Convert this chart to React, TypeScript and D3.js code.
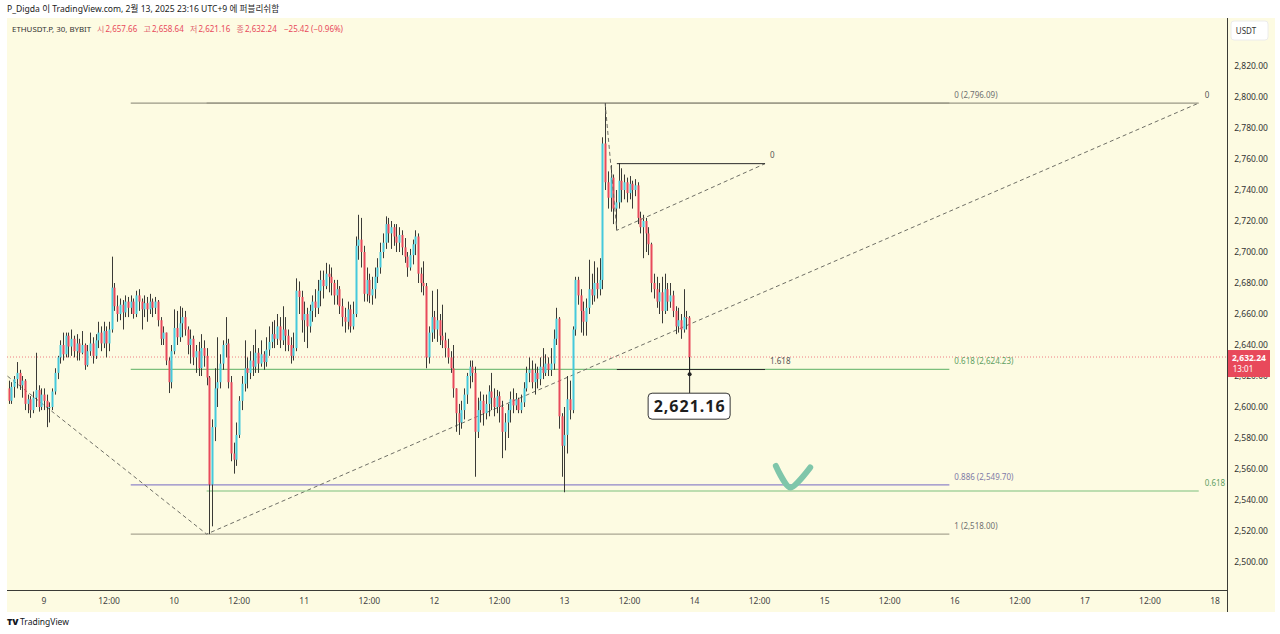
import React from 'react';
import * as d3 from 'd3';

const W = 1280;
const H = 634;

// ---------- candle data (30 min, chart-local time), each [high, low, close]; open = previous close ----------
const firstOpen = 2612;
const feb08Start = Date.UTC(2025, 1, 8, 17, 30);
const feb08 = [
  [2617, 2602, 2604], [2616, 2602, 2613], [2620, 2606, 2618], [2629, 2612, 2622], [2624, 2611, 2614],
  [2620, 2606, 2617], [2618, 2598, 2602], [2608, 2596, 2605], [2607, 2593, 2598], [2610, 2596, 2606],
  [2635, 2600, 2611], [2614, 2597, 2600], [2612, 2598, 2608],
];
const feb09 = [
  [2612, 2598, 2604], [2608, 2587, 2600], [2603, 2590, 2600], [2612, 2598, 2610], [2625, 2608, 2622],
  [2633, 2618, 2632], [2643, 2628, 2640], [2648, 2630, 2634], [2648, 2632, 2646], [2648, 2632, 2639],
  [2650, 2633, 2644], [2646, 2632, 2636], [2647, 2630, 2641], [2644, 2630, 2635], [2649, 2634, 2640],
  [2641, 2624, 2627], [2640, 2626, 2636], [2648, 2633, 2641], [2645, 2628, 2633], [2647, 2631, 2643],
  [2655, 2638, 2648], [2652, 2636, 2641], [2655, 2638, 2649], [2652, 2632, 2641], [2655, 2636, 2650],
  [2697, 2648, 2677], [2680, 2662, 2665], [2672, 2655, 2660], [2670, 2656, 2666], [2669, 2650, 2661],
  [2672, 2658, 2668], [2671, 2658, 2664], [2672, 2660, 2668], [2670, 2657, 2660], [2675, 2658, 2672],
  [2676, 2662, 2668], [2670, 2650, 2663], [2672, 2658, 2667], [2671, 2655, 2663], [2673, 2660, 2668],
  [2670, 2658, 2664], [2671, 2660, 2668], [2669, 2652, 2656], [2658, 2640, 2644], [2652, 2640, 2648],
  [2648, 2627, 2630], [2632, 2609, 2616], [2640, 2612, 2636],
];
const feb10 = [
  [2663, 2634, 2651], [2662, 2640, 2645], [2665, 2642, 2654], [2664, 2645, 2658], [2662, 2646, 2650],
  [2652, 2634, 2640], [2650, 2628, 2644], [2646, 2627, 2632], [2640, 2622, 2636], [2642, 2620, 2625],
  [2647, 2620, 2638], [2643, 2626, 2633], [2638, 2614, 2619], [2620, 2518, 2550], [2592, 2523, 2587],
  [2625, 2578, 2612], [2645, 2600, 2616], [2634, 2612, 2628], [2643, 2624, 2640], [2658, 2632, 2641],
  [2644, 2612, 2616], [2620, 2565, 2570], [2577, 2557, 2566], [2590, 2562, 2582], [2607, 2580, 2604],
  [2620, 2598, 2615], [2643, 2610, 2625], [2632, 2612, 2622], [2636, 2618, 2630], [2640, 2620, 2626],
  [2650, 2622, 2635], [2638, 2622, 2628], [2643, 2626, 2634], [2636, 2624, 2629], [2645, 2626, 2637],
  [2652, 2633, 2642], [2655, 2638, 2647], [2656, 2638, 2644], [2660, 2640, 2652], [2658, 2638, 2643],
  [2665, 2640, 2650], [2658, 2636, 2646], [2650, 2636, 2640], [2645, 2628, 2633], [2648, 2630, 2638],
  [2683, 2636, 2675], [2681, 2660, 2671], [2675, 2648, 2656],
];
const feb11 = [
  [2668, 2642, 2660], [2664, 2638, 2652], [2666, 2648, 2662], [2672, 2655, 2668], [2676, 2658, 2664],
  [2682, 2660, 2675], [2688, 2665, 2682], [2688, 2670, 2678], [2693, 2676, 2686], [2692, 2674, 2684],
  [2690, 2672, 2680], [2682, 2666, 2672], [2682, 2666, 2676], [2678, 2660, 2665], [2670, 2652, 2658],
  [2664, 2648, 2655], [2668, 2650, 2663], [2666, 2648, 2652], [2668, 2650, 2660], [2710, 2658, 2704],
  [2724, 2695, 2708], [2722, 2690, 2700], [2704, 2668, 2673], [2690, 2668, 2682], [2686, 2667, 2672],
  [2684, 2666, 2676], [2690, 2670, 2684], [2696, 2680, 2690], [2706, 2686, 2700], [2712, 2696, 2706],
  [2723, 2702, 2718], [2722, 2706, 2712], [2720, 2702, 2716], [2718, 2704, 2710], [2718, 2700, 2706],
  [2716, 2700, 2711], [2714, 2698, 2703], [2709, 2693, 2697], [2700, 2684, 2690], [2702, 2688, 2698],
  [2708, 2692, 2705], [2714, 2698, 2710], [2712, 2680, 2686], [2690, 2674, 2680], [2694, 2672, 2678],
  [2680, 2625, 2632], [2652, 2628, 2648], [2675, 2642, 2658],
];
const feb12 = [
  [2662, 2644, 2650], [2676, 2642, 2656], [2660, 2640, 2646], [2666, 2638, 2643], [2648, 2632, 2638],
  [2644, 2628, 2632], [2636, 2622, 2625], [2640, 2606, 2612], [2612, 2584, 2596], [2602, 2582, 2590],
  [2604, 2586, 2598], [2612, 2592, 2608], [2622, 2602, 2620], [2630, 2612, 2626], [2630, 2616, 2622],
  [2626, 2555, 2584], [2606, 2580, 2598], [2610, 2590, 2604], [2608, 2588, 2596], [2608, 2592, 2602],
  [2614, 2594, 2610], [2622, 2598, 2606], [2612, 2594, 2600], [2611, 2596, 2607], [2610, 2590, 2600],
  [2604, 2567, 2584], [2596, 2572, 2590], [2602, 2580, 2598], [2610, 2590, 2605], [2612, 2596, 2601],
  [2609, 2598, 2605], [2606, 2596, 2598], [2608, 2596, 2603], [2616, 2600, 2612], [2626, 2610, 2622],
  [2632, 2616, 2624], [2630, 2612, 2616], [2628, 2608, 2622], [2626, 2612, 2618], [2632, 2614, 2626],
  [2638, 2618, 2622], [2634, 2620, 2628], [2632, 2620, 2624], [2638, 2620, 2628], [2650, 2624, 2644],
  [2664, 2640, 2657], [2658, 2586, 2594], [2596, 2555, 2575],
];
const feb13 = [
  [2600, 2545, 2582], [2620, 2570, 2605], [2617, 2592, 2598], [2652, 2596, 2650], [2684, 2646, 2682],
  [2684, 2666, 2672], [2676, 2648, 2662], [2668, 2646, 2655], [2670, 2646, 2664], [2695, 2660, 2676],
  [2686, 2666, 2672], [2694, 2668, 2680], [2690, 2670, 2676], [2696, 2672, 2682], [2774, 2676, 2770],
  [2796.09, 2740, 2745], [2752, 2728, 2735], [2756, 2726, 2748], [2750, 2718, 2728], [2740, 2714, 2732],
  [2757.4, 2728, 2746], [2754, 2732, 2740], [2750, 2734, 2745], [2748, 2732, 2738], [2749, 2734, 2744],
  [2746, 2728, 2740], [2747, 2736, 2743], [2745, 2718, 2722], [2726, 2712, 2716], [2724, 2696, 2720],
  [2722, 2700, 2712], [2716, 2698, 2705], [2706, 2674, 2680], [2686, 2670, 2676], [2684, 2664, 2668],
  [2680, 2660, 2674], [2684, 2654, 2662], [2686, 2660, 2676], [2680, 2662, 2668], [2680, 2664, 2672],
  [2675, 2658, 2662], [2665, 2647, 2652], [2664, 2648, 2656], [2660, 2644, 2650], [2676, 2648, 2658],
  [2662, 2650, 2657.66], [2658.64, 2621.16, 2632.24],
];
const dayBlocks = [
  { start: feb08Start, rows: feb08 },
  { start: Date.UTC(2025, 1, 9), rows: feb09 },
  { start: Date.UTC(2025, 1, 10), rows: feb10 },
  { start: Date.UTC(2025, 1, 11), rows: feb11 },
  { start: Date.UTC(2025, 1, 12), rows: feb12 },
  { start: Date.UTC(2025, 1, 13), rows: feb13 },
];

// ---------- ticks / labels ----------
const priceTicks = [2500, 2520, 2540, 2560, 2580, 2600, 2620, 2640, 2660, 2680, 2700, 2720, 2740, 2760, 2780, 2800, 2820];
const headerText = 'P_Digda 이 TradingView.com, 2월 13, 2025 23:16 UTC+9 에 퍼블리쉬함';
const symbolText = 'ETHUSDT.P, 30, BYBIT';
const legendItems = [
  { label: '시', value: '2,657.66' },
  { label: '고', value: '2,658.64' },
  { label: '저', value: '2,621.16' },
  { label: '종', value: '2,632.24' },
];
const changeText = '−25.42 (−0.96%)';
const lastPrice = 2632.24;
const countdown = '13:01';

// ---------- drawings ----------
const fibRetr = {
  t1: Date.UTC(2025, 1, 9, 16), t2: Date.UTC(2025, 1, 15, 23),
  top: 2796.09, bottom: 2518.0,
  levels: [
    { r: 0, color: '#9a9886', text: '#707070' },
    { r: 0.618, color: '#7cbf7c', text: '#5f9f62' },
    { r: 0.886, color: '#8f86c8', text: '#807aa6' },
    { r: 1, color: '#a9a692', text: '#707070' },
  ],
};
const extBig = {
  A: { t: Date.UTC(2025, 1, 4, 4), p: 2923 },
  B: { t: Date.UTC(2025, 1, 10, 6), p: 2518 },
  C: { t: Date.UTC(2025, 1, 17, 21), p: 2796.09 },
  levels: [
    { r: 0, color: '#9a9886', text: '#555' },
    { r: 0.618, color: '#7cbf7c', text: '#5f9f62' },
  ],
};
const extSmall = {
  A: { t: Date.UTC(2025, 1, 13, 7, 30), p: 2796.09 },
  B: { t: Date.UTC(2025, 1, 13, 9, 40), p: 2714 },
  C: { t: Date.UTC(2025, 1, 14, 13), p: 2757 },
  levels: [
    { r: 0, color: '#2b2b2b', text: '#555' },
    { r: 1.618, color: '#2b2b2b', text: '#555' },
  ],
};
const checkMark = [
  { t: Date.UTC(2025, 1, 14, 15), p: 2562 },
  { t: Date.UTC(2025, 1, 14, 17, 40), p: 2548 },
  { t: Date.UTC(2025, 1, 14, 21, 20), p: 2561 },
];

const UP = '#45c9dc';
const DOWN = '#e8495b';
const BG = '#fdfbe2';
const FONT = "'Noto Sans', 'Noto Sans CJK KR', sans-serif";

export default function App() {
  const x = d3.scaleUtc().domain([Date.UTC(2025, 1, 9), Date.UTC(2025, 1, 18)]).range([44, 1215]);
  const y = d3.scaleLinear().domain([2500, 2820]).range([562, 66]);

  const candles: { t: number; o: number; h: number; l: number; c: number }[] = [];
  let prev = firstOpen;
  dayBlocks.forEach((b) => {
    b.rows.forEach((r, i) => {
      const o = prev;
      const c = r[2];
      candles.push({ t: b.start + i * 30 * 60000, o, h: Math.max(r[0], o, c), l: Math.min(r[1], o, c), c });
      prev = c;
    });
  });
  const last = candles[candles.length - 1];

  const timeTicks = x.ticks(d3.utcHour.every(12) as any);
  const fmtPrice = d3.format(',.2f');

  const plotL = 7, plotR = 1227, plotT = 18, plotB = 590;

  const lineGen = d3.line<{ t: number; p: number }>().x((d) => x(d.t)).y((d) => y(d.p));
  const checkGen = d3.line<{ t: number; p: number }>().x((d) => x(d.t)).y((d) => y(d.p)).curve(d3.curveCardinal.tension(0.2));

  const extLevelPrice = (e: typeof extBig, r: number) => e.C.p - r * (e.A.p - e.B.p);

  const lastY = y(lastPrice);

  // legend layout
  const legendEls: React.ReactNode[] = [];
  legendItems.forEach((it, i) => {
    const lx = 97 + i * 46.5;
    legendEls.push(
      <text key={'l' + i} x={lx} y={32} fontSize={8} fill="#e06570" fontFamily={FONT}>{it.label}</text>
    );
    legendEls.push(
      <text key={'v' + i} x={lx + 8.5} y={32} fontSize={8} fill="#e8495b" fontFamily={FONT}>{it.value}</text>
    );
  });
  const changeX = 97 + legendItems.length * 46.5 + 1;

  return (
    <svg width={W} height={H} style={{ position: 'absolute', left: 0, top: 0, display: 'block' }} fontFamily={FONT}>
      <rect x={0} y={0} width={W} height={H} fill="#ffffff" />
      <text x={7} y={12} fontSize={8.6} fill="#222" fontFamily={FONT}>{headerText}</text>
      <rect x={plotL} y={plotT} width={1275 - plotL} height={612 - plotT} fill={BG} />
      <defs>
        <clipPath id="plot">
          <rect x={plotL} y={plotT} width={plotR - plotL} height={plotB - plotT} />
        </clipPath>
      </defs>

      <g clipPath="url(#plot)">
        {/* current price dotted line */}
        <line x1={plotL} x2={plotR} y1={lastY} y2={lastY} stroke="#e8495b" strokeOpacity={0.7} strokeDasharray="1,2" />

        {/* fib retracement */}
        {fibRetr.levels.map((lv) => {
          const p = fibRetr.top - lv.r * (fibRetr.top - fibRetr.bottom);
          return (
            <g key={'fr' + lv.r}>
              <line x1={x(fibRetr.t1)} x2={x(fibRetr.t2)} y1={y(p)} y2={y(p)} stroke={lv.color} strokeWidth={1.2} />
              <text x={x(fibRetr.t2) + 5} y={y(p) - 5} fontSize={8} fill={lv.text}>{`${lv.r} (${fmtPrice(p)})`}</text>
            </g>
          );
        })}

        {/* big trend-based extension */}
        <path d={lineGen([extBig.A, extBig.B, extBig.C]) || ''} fill="none" stroke="#6f6f66" strokeDasharray="4,3" strokeWidth={1} />
        {extBig.levels.map((lv) => {
          const p = extLevelPrice(extBig, lv.r);
          return (
            <g key={'eb' + lv.r}>
              <line x1={x(extBig.B.t)} x2={x(extBig.C.t)} y1={y(p)} y2={y(p)} stroke={lv.color} strokeWidth={1.2} />
              <text x={x(extBig.C.t) + 6} y={y(p) - 5} fontSize={8} fill={lv.text}>{`${lv.r}`}</text>
            </g>
          );
        })}

        {/* candles */}
        {candles.map((d, i) => {
          const cx = Math.round(x(d.t)) + 0.5;
          const up = d.c >= d.o;
          const top = y(Math.max(d.o, d.c));
          const bot = y(Math.min(d.o, d.c));
          return (
            <g key={'c' + i}>
              <line x1={cx} x2={cx} y1={y(d.h)} y2={y(d.l)} stroke="#3a3a36" strokeWidth={1} />
              <rect x={cx - 1} y={top} width={2} height={Math.max(1, bot - top)} fill={up ? UP : DOWN} />
            </g>
          );
        })}

        {/* small trend-based extension */}
        <path d={lineGen([extSmall.A, extSmall.B, extSmall.C]) || ''} fill="none" stroke="#6f6f66" strokeDasharray="4,3" strokeWidth={1} />
        {extSmall.levels.map((lv) => {
          const p = extLevelPrice(extSmall as any, lv.r);
          return (
            <g key={'es' + lv.r}>
              <line x1={x(extSmall.B.t)} x2={x(extSmall.C.t)} y1={y(p)} y2={y(p)} stroke={lv.color} strokeWidth={1} />
              <text x={x(extSmall.C.t) + 5} y={y(p) - 6} fontSize={8} fill={lv.text}>{`${lv.r}`}</text>
            </g>
          );
        })}

        {/* callout for the low */}
        <line x1={x(last.t) + 0.5} x2={x(last.t) + 0.5} y1={y(last.c)} y2={y(last.l) + 19} stroke="#222" strokeWidth={1} />
        <circle cx={x(last.t) + 0.5} cy={y(last.l)} r={2} fill="#222" />
        <rect x={x(last.t) - 41} y={y(last.l) + 19} width={82} height={26} rx={4} fill="#fff" stroke="#333" strokeWidth={1} />
        <text x={x(last.t) + 0.5} y={y(last.l) + 38} fontSize={16} fontWeight={700} textAnchor="middle" fill="#1e1e1e" letterSpacing={1}>
          {d3.format(',.2f')(last.l)}
        </text>

        {/* green check */}
        <path d={checkGen(checkMark) || ''} fill="none" stroke="#7fc6aa" strokeWidth={6} strokeLinecap="round" strokeLinejoin="round" />
      </g>

      {/* legend */}
      <text x={12} y={32} fontSize={7.9} fill="#333">{symbolText}</text>
      {legendEls}
      <text x={changeX} y={32} fontSize={8} fill="#e8495b">{changeText}</text>

      {/* axes frame */}
      <line x1={plotL} x2={plotR} y1={plotB + 0.5} y2={plotB + 0.5} stroke="#3b3b36" strokeWidth={1} />
      <line x1={plotR + 0.5} x2={plotR + 0.5} y1={plotT} y2={612} stroke="#3b3b36" strokeWidth={1} />

      {/* price axis */}
      <rect x={1231} y={21} width={37} height={19} rx={3} fill="#ffffff" stroke="#ececec" />
      <text x={1246} y={34} fontSize={8} fill="#333" textAnchor="middle">USDT</text>
      {priceTicks.map((p) => (
        <text key={'p' + p} x={1251} y={y(p) + 3} fontSize={8.5} fill="#333" textAnchor="middle">{fmtPrice(p)}</text>
      ))}
      <rect x={1228} y={lastY - 7} width={42} height={27} fill="#e8495b" />
      <text x={1249} y={lastY + 4} fontSize={8.5} fontWeight={700} fill="#fff" textAnchor="middle">{fmtPrice(lastPrice)}</text>
      <text x={1243} y={lastY + 15} fontSize={8} fill="#fff" textAnchor="middle">{countdown}</text>

      {/* time axis */}
      {timeTicks.map((t) => {
        const d = t as Date;
        const label = d.getUTCHours() === 0 ? String(d.getUTCDate()) : '12:00';
        return (
          <text key={'t' + d.getTime()} x={x(d)} y={604} fontSize={8.5} fill="#444" textAnchor="middle">{label}</text>
        );
      })}

      {/* footer */}
      <text x={7} y={625} fontSize={9} fontWeight={900} fill="#131722">TV</text>
      <text x={20} y={625} fontSize={8.5} fill="#131722">TradingView</text>
    </svg>
  );
}
